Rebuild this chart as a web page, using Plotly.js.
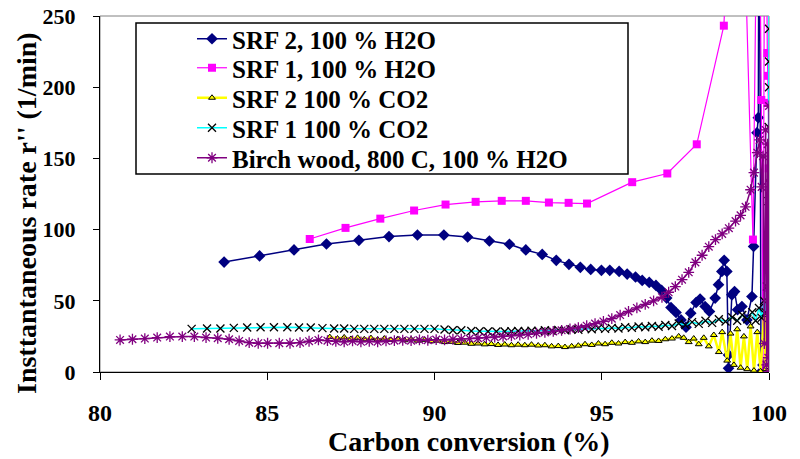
<!DOCTYPE html>
<html>
<head>
<meta charset="utf-8">
<script src="https://cdn.plot.ly/plotly-3.0.1.min.js"></script>
<style>html,body{margin:0;padding:0;background:#fff;}#chart{width:800px;height:459px;}</style>
</head>
<body>
<div id="chart"></div>
<script>
// ---- data ----
const seriesNames = ["SRF 2, 100 % H2O", "SRF 1, 100 % H2O", "SRF 2 100 % CO2", "SRF 1 100 % CO2", "Birch wood, 800 C, 100 % H2O"];

const srf2H2O_x = [83.71,84.77,85.80,86.77,87.74,88.64,89.49,90.28,90.99,91.64,92.24,92.73,93.22,93.64,94.02,94.36,94.67,94.99,95.24,95.52,95.76,96.01,96.21,96.42,96.62,96.79,96.94,97.07,97.22,97.37,97.52,97.66,97.82,97.94,98.09,98.22,98.39,98.49,98.59,98.66,98.74,98.79,98.79,98.89,98.97,99.06,99.19,99.34,99.49,99.54,99.64,99.68,99.71,99.76,99.82,100.0];
const srf2H2O_y = [77.2,81.5,85.7,89.9,92.5,95.1,96.2,96.2,94.8,92.0,89.7,85.7,82.6,78.4,75.6,73.5,72.0,71.4,71.4,70.6,68.8,66.7,64.3,62.9,60.8,57.3,51.9,45.3,41.8,36.6,31.5,41.3,48.8,51.2,46.0,42.5,51.9,61.3,70.6,78.4,70.6,12.0,2.6,54.2,56.5,43.7,46.0,36.6,53.0,88.2,168.0,178.6,420.0,0.0,5.0,20.0];

const srf1H2O_x = [86.27,87.34,88.38,89.39,90.33,91.23,92.01,92.73,93.42,94.01,94.56,95.91,96.96,97.84,98.65,99.10,99.52,99.68,99.77,99.82,99.88,99.95,99.97,99.98,99.99,100.0,100.0];
const srf1H2O_y = [93.4,101.2,107.7,113.4,117.6,119.5,120.2,120.2,119.0,118.8,118.3,133.3,139.4,159.9,243.2,450.0,93.0,420.0,191.0,0.0,420.0,224.0,208.0,189.0,143.0,119.0,59.0];

const srf2CO2_x = [86.87,87.1,87.3,87.5,87.7,87.9,88.1,88.3,88.5,88.7,88.9,89.1,89.3,89.5,89.7,89.9,90.1,90.3,90.5,90.7,90.9,91.1,91.3,91.5,91.7,91.9,92.1,92.3,92.5,92.7,92.9,93.1,93.3,93.5,93.7,93.9,94.1,94.3,94.5,94.7,94.9,95.1,95.3,95.5,95.7,95.9,96.1,96.3,96.5,96.7,96.9,97.1,97.3,97.45,97.6,97.75,97.9,98.05,98.2,98.35,98.5,98.6,98.75,98.85,98.95,99.05,99.15,99.25,99.35,99.45,99.55,99.65,99.75,99.85,99.9,99.95,99.97,99.99,100.0,100.0];
const srf2CO2_y = [24.5,23.5,24.3,23.2,24.0,23.0,23.8,22.8,23.5,22.5,23.2,22.3,23.0,22.0,22.6,21.6,22.0,21.0,21.2,20.4,20.6,19.8,20.0,19.4,19.6,19.0,19.3,18.8,19.2,18.8,19.2,18.6,18.8,18.0,18.2,17.5,18.0,18.5,19.5,19.0,20.0,19.5,20.5,20.0,21.0,20.5,21.5,21.0,22.0,21.8,23.0,23.5,25.0,24.0,21.0,23.5,19.5,24.0,18.0,26.0,14.0,28.0,8.0,27.0,5.0,30.0,3.0,25.0,2.0,32.0,1.0,28.0,0.5,40.0,2.0,60.0,90.0,120.0,135.0,0.0];

const srf1CO2_x = [82.74,83.2,83.6,84.0,84.4,84.8,85.2,85.6,85.95,86.3,86.65,87.0,87.3,87.6,87.9,88.2,88.5,88.8,89.1,89.4,89.7,90.0,90.3,90.55,90.8,91.1,91.35,91.6,91.85,92.1,92.3,92.5,92.7,92.9,93.1,93.3,93.5,93.7,93.9,94.1,94.3,94.5,94.7,94.9,95.1,95.3,95.5,95.7,95.9,96.1,96.3,96.5,96.7,96.9,97.1,97.3,97.5,97.7,97.9,98.1,98.3,98.5,98.7,98.9,99.05,99.2,99.35,99.5,99.6,99.7,99.78,99.85,99.9,99.94,99.97,99.98,99.99,100.0,100.0,100.0,100.0];
const srf1CO2_y = [30.3,30.5,30.6,31.0,31.2,31.4,31.4,31.4,31.2,31.2,30.8,30.5,30.5,30.3,30.3,30.3,30.3,30.3,30.3,30.3,30.3,30.3,29.8,29.3,29.3,28.8,28.6,28.4,28.4,28.4,28.6,28.8,28.6,29.0,28.8,29.3,29.0,29.6,29.3,30.0,29.6,30.5,30.0,30.8,30.3,31.0,30.6,31.5,31.0,32.0,31.4,32.3,31.8,33.0,32.3,34.0,33.0,35.0,33.8,36.0,34.5,37.0,35.5,38.5,36.0,40.0,37.0,42.0,36.0,45.0,38.0,50.0,42.0,60.0,80.0,120.0,172.0,200.0,218.0,241.0,420.0];

const birch_x = [80.6,80.97,81.34,81.71,82.09,82.46,82.82,83.17,83.52,83.86,84.16,84.46,84.73,85.01,85.36,85.68,85.98,86.25,86.53,86.8,87.05,87.3,87.55,87.8,88.05,88.3,88.55,88.8,89.05,89.3,89.55,89.8,90.05,90.3,90.55,90.8,91.05,91.3,91.55,91.8,92.05,92.3,92.55,92.8,93.05,93.3,93.55,93.8,94.05,94.3,94.55,94.8,95.05,95.3,95.55,95.8,96.05,96.3,96.55,96.8,97.0,97.2,97.4,97.6,97.8,98.0,98.2,98.4,98.6,98.8,99.0,99.15,99.3,99.45,99.55,99.65,99.72,99.78,99.82,99.86,99.9,99.93,99.96,99.98,100.0,100.0];
const birch_y = [22.5,23.0,23.5,24.2,24.9,24.9,24.9,24.2,23.7,23.0,21.8,20.6,20.2,20.2,20.2,20.2,20.6,21.6,22.5,22.0,21.5,21.2,21.8,21.2,21.6,21.2,21.8,22.0,22.3,22.0,22.5,22.3,22.8,22.5,23.0,23.2,23.5,23.8,24.2,24.5,25.0,25.4,26.0,26.5,27.2,27.8,28.5,29.3,30.2,31.2,32.5,34.0,35.5,37.5,40.0,42.5,45.0,47.5,50.0,52.5,56.0,60.0,64.8,70.0,77.0,82.0,88.0,93.0,97.0,101.0,106.0,110.0,116.0,128.0,140.0,154.0,163.0,130.0,151.6,20.0,170.0,5.0,160.0,10.0,186.8,0.0];

const xTickVals = [80, 85, 90, 95, 100];
const yTickVals = [0, 50, 100, 150, 200, 250];
const xTitle = "Carbon conversion (%)";
const yTitle = "Insttantaneous rate r'' (1/min)";

// ---- chart ----
const FONT = "Liberation Serif, Times New Roman, serif";

const legendIds = ["legend", "legend2", "legend3", "legend4", "legend5"];

const traces = [
  {x: srf2H2O_x, y: srf2H2O_y, name: seriesNames[0], mode: "lines+markers", legend: legendIds[0],
   line: {color: "#000080", width: 1.5}, marker: {symbol: "diamond", size: 9, color: "#000080"}},
  {x: srf1H2O_x, y: srf1H2O_y, name: seriesNames[1], mode: "lines+markers", legend: legendIds[1],
   line: {color: "#FF00FF", width: 1.2}, marker: {symbol: "square", size: 8, color: "#FF00FF"}},
  {x: srf2CO2_x, y: srf2CO2_y, name: seriesNames[2], mode: "lines+markers", legend: legendIds[2],
   line: {color: "#FFFF00", width: 2.5}, marker: {symbol: "triangle-up", size: 6, color: "#FFFF00", line: {color: "#000000", width: 1}}},
  {x: srf1CO2_x, y: srf1CO2_y, name: seriesNames[3], mode: "lines+markers", legend: legendIds[3],
   line: {color: "#00FFFF", width: 1.5}, marker: {symbol: "x-thin-open", size: 8, color: "#000000", line: {width: 1.3}}},
  {x: birch_x, y: birch_y, name: seriesNames[4], mode: "lines+markers", legend: legendIds[4],
   line: {color: "#800080", width: 1.5}, marker: {symbol: "asterisk-open", size: 9, color: "#800080", line: {width: 1.3}}}
];

const L = 100, R = 769, T = 16, B = 372;
const px2paperX = p => (p - L) / (R - L);
const px2paperY = p => (B - p) / (B - T);

const layout = {
  width: 800, height: 459,
  margin: {l: L, r: 800 - R, t: T, b: 459 - B},
  paper_bgcolor: "#ffffff", plot_bgcolor: "#ffffff",
  font: {family: FONT, color: "#000000", weight: 700},
  showlegend: true,
  xaxis: {
    range: [80, 100], tickvals: xTickVals, ticktext: xTickVals.map(String),
    ticks: "outside", ticklen: 7, tickcolor: "#000000", tickwidth: 1,
    showline: true, linecolor: "#000000", linewidth: 1, mirror: false,
    showgrid: false, zeroline: false,
    tickfont: {family: FONT, size: 24, color: "#000000", weight: 700},
    ticklabelstandoff: 12
  },
  yaxis: {
    range: [0, 250], tickvals: yTickVals, ticktext: yTickVals.map(String),
    ticks: "outside", ticklen: 6, tickcolor: "#000000", tickwidth: 1,
    showline: true, linecolor: "#000000", linewidth: 1, mirror: false,
    showgrid: false, zeroline: false,
    tickfont: {family: FONT, size: 22, color: "#000000", weight: 700},
    ticklabelstandoff: 13
  },
  shapes: [
    {type: "rect", xref: "paper", yref: "paper", x0: 0, x1: 1, y0: 0, y1: 1,
     line: {color: "#808080", width: 1}, fillcolor: "rgba(0,0,0,0)", layer: "below"},
    {type: "rect", xref: "paper", yref: "paper",
     x0: px2paperX(136), x1: px2paperX(628), y0: px2paperY(174), y1: px2paperY(23),
     line: {color: "#000000", width: 1.5}, fillcolor: "#ffffff", layer: "below"}
  ],
  annotations: [
    {text: xTitle, xref: "paper", yref: "paper", x: px2paperX(469), y: px2paperY(441),
     xanchor: "center", yanchor: "middle", showarrow: false,
     font: {family: FONT, size: 28, color: "#000000", weight: 700}},
    {text: yTitle, xref: "paper", yref: "paper", x: px2paperX(26), y: px2paperY(213),
     xanchor: "center", yanchor: "middle", showarrow: false, textangle: -90,
     font: {family: FONT, size: 28, color: "#000000", weight: 700}}
  ]
};

// one legend box per entry so the row spacing matches the reference
const rowCenters = [40, 69, 99, 129, 159];
legendIds.forEach((id, i) => {
  layout[id] = {
    x: px2paperX(192), y: px2paperY(rowCenters[i] - 24), xanchor: "left", yanchor: "top",
    bgcolor: "rgba(0,0,0,0)", borderwidth: 0, itemwidth: 30,
    font: {family: FONT, size: 25, color: "#000000", weight: 700}
  };
});

Plotly.newPlot("chart", traces, layout, {staticPlot: true, displayModeBar: false});
</script>
</body>
</html>
